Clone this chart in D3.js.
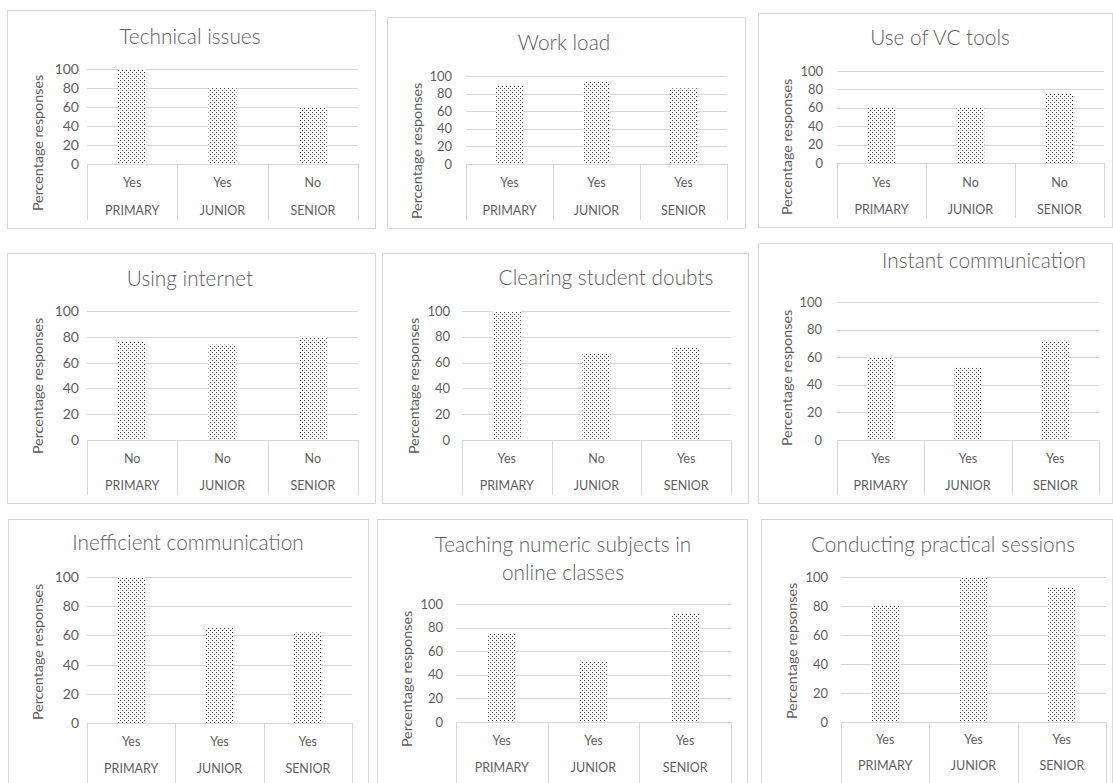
<!DOCTYPE html>
<html>
<head>
<meta charset="utf-8">
<script src="https://cdn.jsdelivr.net/npm/d3@7"></script>
<style>
  body { margin: 0; background: #fff; }
  svg { display: block; }
  text { font-family: Lato, "Open Sans", sans-serif; fill: #5f5f5f; }
</style>
</head>
<body>
<svg id="chart" width="1113" height="783"></svg>
<script>
// School levels (outer category axis)
const levels = ["PRIMARY", "JUNIOR", "SENIOR"];

// Chart titles (one entry per panel, split into lines)
const chartTitles = [
  ["Technical issues"],
  ["Work load"],
  ["Use of VC tools"],
  ["Using internet"],
  ["Clearing student doubts"],
  ["Instant communication"],
  ["Inefficient communication"],
  ["Teaching numeric subjects in", "online classes"],
  ["Conducting practical sessions"]
];

// Majority answer for each level (inner category axis)
const answers = [
  ["Yes", "Yes", "No"],
  ["Yes", "Yes", "Yes"],
  ["Yes", "No", "No"],
  ["No", "No", "No"],
  ["Yes", "No", "Yes"],
  ["Yes", "Yes", "Yes"],
  ["Yes", "Yes", "Yes"],
  ["Yes", "Yes", "Yes"],
  ["Yes", "Yes", "Yes"]
];

// Percentage of responses per level
const responses = [
  [100, 80, 60],
  [89, 94, 86],
  [60, 60, 76],
  [76, 74, 80],
  [100, 67, 72],
  [60, 53, 72],
  [100, 65, 62],
  [75, 52, 92],
  [80, 100, 93]
];

const yTicks = [0, 20, 40, 60, 80, 100];

const axisTitles = [
  "Percentage responses", "Percentage responses", "Percentage responses",
  "Percentage responses", "Percentage responses", "Percentage responses",
  "Percentage responses", "Percentage responses", "Percentage repsonses"
];

// Panel geometry: frame box, title centre, axis title centre, tick label edge,
// plot extent, category label rows, tick font size
const frames = [
  { box: [7, 10, 375, 228],  title: [190, 37], ty: [38, 143],  tickRight: 79,  x0: 87,  x1: 358,  y100: 69,  y0: 164, catBottom: 220, innerY: 183, outerY: 211, tickFs: 14 },
  { box: [387, 17, 745, 228], title: [564, 43], ty: [417, 151], tickRight: 452, x0: 466, x1: 727,  y100: 76,  y0: 164, catBottom: 220, innerY: 183, outerY: 211, tickFs: 13 },
  { box: [758, 13, 1112, 227], title: [940, 38], ty: [787, 147], tickRight: 823, x0: 837, x1: 1104, y100: 71,  y0: 163, catBottom: 218, innerY: 183, outerY: 210, tickFs: 13 },
  { box: [7, 253, 375, 503], title: [190, 279], ty: [38, 386],  tickRight: 79,  x0: 87,  x1: 358,  y100: 311, y0: 440, catBottom: 495, innerY: 459, outerY: 486, tickFs: 14 },
  { box: [382, 253, 748, 503], title: [606, 278], ty: [414, 386], tickRight: 450, x0: 462, x1: 731, y100: 311, y0: 440, catBottom: 495, innerY: 459, outerY: 486, tickFs: 13 },
  { box: [758, 243, 1112, 503], title: [984, 261], ty: [787, 378], tickRight: 822, x0: 837, x1: 1099, y100: 302, y0: 440, catBottom: 495, innerY: 459, outerY: 486, tickFs: 13 },
  { box: [8, 519, 368, 800], title: [188, 543], ty: [38, 652],  tickRight: 79,  x0: 87,  x1: 352,  y100: 577, y0: 723, catBottom: 800, innerY: 742, outerY: 769, tickFs: 14 },
  { box: [377, 519, 747, 800], title: [563, 545], ty: [407, 679], tickRight: 443, x0: 456, x1: 731, y100: 604, y0: 722, catBottom: 800, innerY: 741, outerY: 768, tickFs: 13 },
  { box: [761, 519, 1112, 800], title: [943, 545], ty: [792, 651], tickRight: 828, x0: 841, x1: 1106, y100: 577, y0: 722, catBottom: 800, innerY: 740, outerY: 766, tickFs: 13 }
];

const lineColor = "#d9d9d9";
const svg = d3.select("#chart");

// Dotted fill used by every bar
const pattern = svg.append("defs").append("pattern")
  .attr("id", "dots")
  .attr("patternUnits", "userSpaceOnUse")
  .attr("width", 4).attr("height", 4);
pattern.append("rect").attr("width", 4).attr("height", 4).attr("fill", "#fff");
pattern.append("rect").attr("x", 0).attr("y", 0).attr("width", 1).attr("height", 1).attr("fill", "#474747");
pattern.append("rect").attr("x", 2).attr("y", 2).attr("width", 1).attr("height", 1).attr("fill", "#474747");

frames.forEach((f, i) => {
  const g = svg.append("g");

  // chart frame
  g.append("rect")
    .attr("x", f.box[0] + 0.5).attr("y", f.box[1] + 0.5)
    .attr("width", f.box[2] - f.box[0]).attr("height", f.box[3] - f.box[1])
    .attr("fill", "#fff").attr("stroke", lineColor).attr("stroke-width", 1);

  const x = d3.scaleBand().domain(levels).range([f.x0, f.x1])
    .paddingInner(0.69).paddingOuter(0.345);
  const y = d3.scaleLinear().domain([0, 100]).range([f.y0, f.y100]);

  // value axis with gridlines
  const yAxis = g.append("g")
    .attr("transform", `translate(${f.x0},0)`)
    .call(d3.axisLeft(y)
      .tickValues(yTicks)
      .tickSize(-(f.x1 - f.x0))
      .tickPadding(f.x0 - f.tickRight)
      .tickFormat(d3.format("d")));
  yAxis.select(".domain").remove();
  yAxis.selectAll(".tick line").attr("stroke", lineColor).attr("shape-rendering", "crispEdges");
  yAxis.selectAll(".tick text")
    .attr("fill", "#5f5f5f")
    .style("font-family", "Lato, 'Open Sans', sans-serif")
    .style("font-size", f.tickFs + "px");

  // category boundaries below the plot
  const step = x.step();
  const bounds = d3.range(levels.length + 1).map(k => f.x0 + k * step);
  g.selectAll(".cat-sep").data(bounds).join("line")
    .attr("x1", d => Math.round(d) + 0.5).attr("x2", d => Math.round(d) + 0.5)
    .attr("y1", f.y0).attr("y2", f.catBottom)
    .attr("stroke", lineColor);

  // bars
  g.selectAll(".bar").data(responses[i]).join("rect")
    .attr("x", (d, k) => x(levels[k]))
    .attr("y", d => y(d))
    .attr("width", x.bandwidth())
    .attr("height", d => f.y0 - y(d))
    .attr("fill", "url(#dots)");

  // inner (answer) and outer (level) labels
  g.selectAll(".answer").data(answers[i]).join("text")
    .attr("x", (d, k) => x(levels[k]) + x.bandwidth() / 2)
    .attr("y", f.innerY).attr("dy", "0.35em")
    .attr("text-anchor", "middle")
    .style("font-size", "12.5px")
    .text(d => d);
  g.selectAll(".level").data(levels).join("text")
    .attr("x", d => x(d) + x.bandwidth() / 2)
    .attr("y", f.outerY).attr("dy", "0.35em")
    .attr("text-anchor", "middle")
    .style("font-size", "12.5px")
    .text(d => d);

  // axis title
  g.append("text")
    .attr("transform", `translate(${f.ty[0]},${f.ty[1]}) rotate(-90)`)
    .attr("dy", "0.35em")
    .attr("text-anchor", "middle")
    .style("font-size", "14.3px")
    .text(axisTitles[i]);

  // chart title
  g.selectAll(".title-line").data(chartTitles[i]).join("text")
    .attr("x", f.title[0])
    .attr("y", (d, k) => f.title[1] + k * 28)
    .attr("dy", "0.35em")
    .attr("text-anchor", "middle")
    .style("font-size", "20.8px")
    .style("font-weight", 300)
    .text(d => d);
});
</script>
</body>
</html>
